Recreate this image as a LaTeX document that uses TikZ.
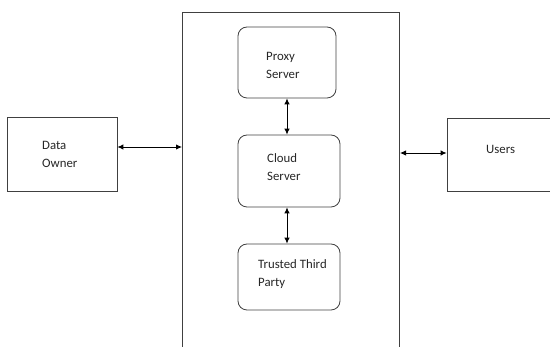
\documentclass[tikz,border=0pt]{standalone}
\usepackage{fontspec}
\setmainfont{Carlito}
\usetikzlibrary{arrows.meta}
\tikzset{
  edge/.style={draw=black!75, line width=0.8pt},
  plainbox/.style={edge, rectangle, inner sep=0pt},
  roundbox/.style={edge, rectangle, rounded corners=9pt, inner sep=0pt},
  label/.style={anchor=north west, inner sep=0pt, align=left,
    font=\fontsize{12.8}{18}\selectfont, text=black!85},
  link/.style={draw=black, line width=0.9pt,
    {Latex[length=6pt,width=5.5pt]}-{Latex[length=6pt,width=5.5pt]}}
}
\begin{document}
\begin{tikzpicture}[x=1pt,y=-1pt]
  \useasboundingbox (0,0) rectangle (550,347);
  % outer frame, open at the bottom
  \coordinate (frameBL) at (182,352);
  \coordinate (frameTL) at (182,12);
  \coordinate (frameTR) at (399,12);
  \coordinate (frameBR) at (399,352);
  \draw[edge] (frameBL) -- (frameTL) -- (frameTR) -- (frameBR);

  % side boxes
  \node[plainbox, minimum width=110pt, minimum height=74pt] (owner) at (62,154.5) {};
  \node[plainbox, minimum width=112pt, minimum height=73pt] (users) at (503,154.5) {};
  % inner boxes
  \node[roundbox, minimum width=98pt, minimum height=71pt] (proxy) at (287,62.5) {};
  \node[roundbox, minimum width=102pt, minimum height=72pt] (cloud) at (289,171) {};
  \node[roundbox, minimum width=102pt, minimum height=66pt] (ttp) at (289,277) {};

  % labels
  \node[label] (ownerT) at (42,141) {Data\\Owner};
  \node[label] (usersT) at (486,145.5) {Users};
  \node[label] (proxyT) at (266,52) {Proxy\\Server};
  \node[label] (cloudT) at (267,153.5) {Cloud\\Server};
  \node[label] (ttpT) at (258,259) {Trusted Third\\Party};

  % connectors
  \coordinate (frameL) at (182,147);
  \coordinate (frameR) at (400,153);
  \draw[link] (owner.east |- frameL) -- (frameL);
  \draw[link] (frameR) -- (users.west |- frameR);
  \draw[link] (proxy.south -| 287,0) -- (cloud.north -| 287,0);
  \draw[link] (cloud.south -| 287,0) -- (ttp.north -| 287,0);
\end{tikzpicture}
\end{document}
